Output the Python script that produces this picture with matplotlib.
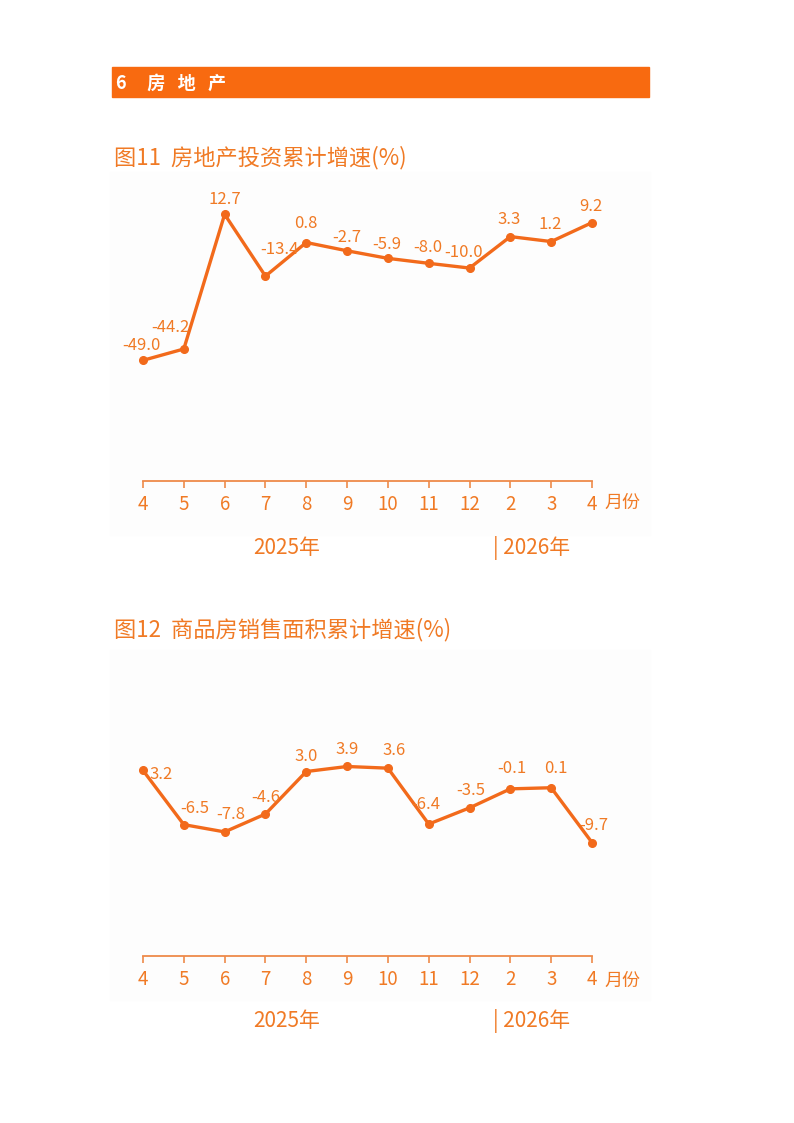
import matplotlib
matplotlib.use('Agg')
from matplotlib import pyplot as plt
from matplotlib.patches import Rectangle

plt.rcParams['font.family'] = ['Noto Sans CJK SC', 'DejaVu Sans']

months = ['4', '5', '6', '7', '8', '9', '10', '11', '12', '2', '3', '4']
invest = [-49.0, -44.2, 12.7, -13.4, 0.8, -2.7, -5.9, -8.0, -10.0, 3.3, 1.2, 9.2]
sales = [3.2, -6.5, -7.8, -4.6, 3.0, 3.9, 3.6, -6.4, -3.5, -0.1, 0.1, -9.7]

# label offsets in pixels (dx, dy), dy up
invest_off = [(-2, 15), (-13, 21), (0, 15), (14, 27), (0, 19), (0, 13),
              (-1, 14), (-1, 16), (-6, 16), (-1, 17), (-1, 17), (-1, 16)]
sales_off = [(18, -4), (11, 16), (6, 17), (0, 17), (0, 15), (0, 17),
             (6, 18), (-3, 20), (1, 17), (2, 20), (5, 19), (2, 17)]

W, H = 794, 1123
ORANGE = '#F26A1B'
TXT = '#F07A25'

fig = plt.figure(figsize=(W / 100, H / 100), dpi=100)


def box(x0, y0, x1, y1):
    return [x0 / W, 1 - y1 / H, (x1 - x0) / W, (y1 - y0) / H]


def ftext(x, y, s, **kw):
    fig.text(x / W, 1 - y / H, s, **kw)


# header bar
fig.patches.append(Rectangle((112 / W, 1 - 97 / H), (649 - 112) / W, 30 / H,
                             transform=fig.transFigure, color='#F86A10', zorder=-1))
ftext(116, 83, '6     房   地   产', color='white', fontsize=13, fontweight='bold', va='center')

# faint chart backgrounds
for y0, y1 in [(172, 535), (650, 1000)]:
    fig.patches.append(Rectangle((110 / W, 1 - y1 / H), 540 / W, (y1 - y0) / H,
                                 transform=fig.transFigure, color='#FDFDFD', zorder=-1))


def draw(title, ty, vals, offs, top, bottom, ylo, yhi, lab_y, year_y):
    ftext(114, ty, title, color=TXT, fontsize=16, va='center')
    ax = fig.add_axes(box(143, top, 592, bottom))
    ax.set_zorder(2)
    ax.patch.set_alpha(0)
    x = list(range(len(vals)))
    ax.plot(x, vals, color=ORANGE, lw=2.4, marker='o', ms=5.5, clip_on=False, zorder=3)
    for i, v in enumerate(vals):
        ax.annotate(f'{v:.1f}', (i, v), xytext=offs[i], textcoords='offset pixels',
                    ha='center', va='center', color=TXT, fontsize=12)
    ax.set_xlim(0, len(vals) - 1)
    ax.set_ylim(ylo, yhi)
    for s in ['top', 'left', 'right']:
        ax.spines[s].set_visible(False)
    ax.spines['bottom'].set_color('#EE8A4A')
    ax.spines['bottom'].set_linewidth(1.3)
    ax.set_yticks([])
    ax.set_xticks(x)
    ax.set_xticklabels(months)
    ax.tick_params(axis='x', direction='out', length=5, width=1.2, color='#EE8A4A',
                   labelcolor=TXT, labelsize=13.5, pad=4.5)
    ftext(604, lab_y + 2, '月份', color=TXT, fontsize=13, va='center')
    ftext(287, year_y, '2025年', color=TXT, fontsize=15, va='center', ha='center')
    ftext(493, year_y, '| 2026年', color=TXT, fontsize=15, va='center', ha='left')


draw('图11  房地产投资累计增速(%)', 158, invest, invest_off, 172, 481, -100, 30.6, 501, 548)
draw('图12  商品房销售面积累计增速(%)', 630, sales, sales_off, 660, 956, -30, 22.95, 979, 1021)

fig.savefig('out.png', dpi=100)
